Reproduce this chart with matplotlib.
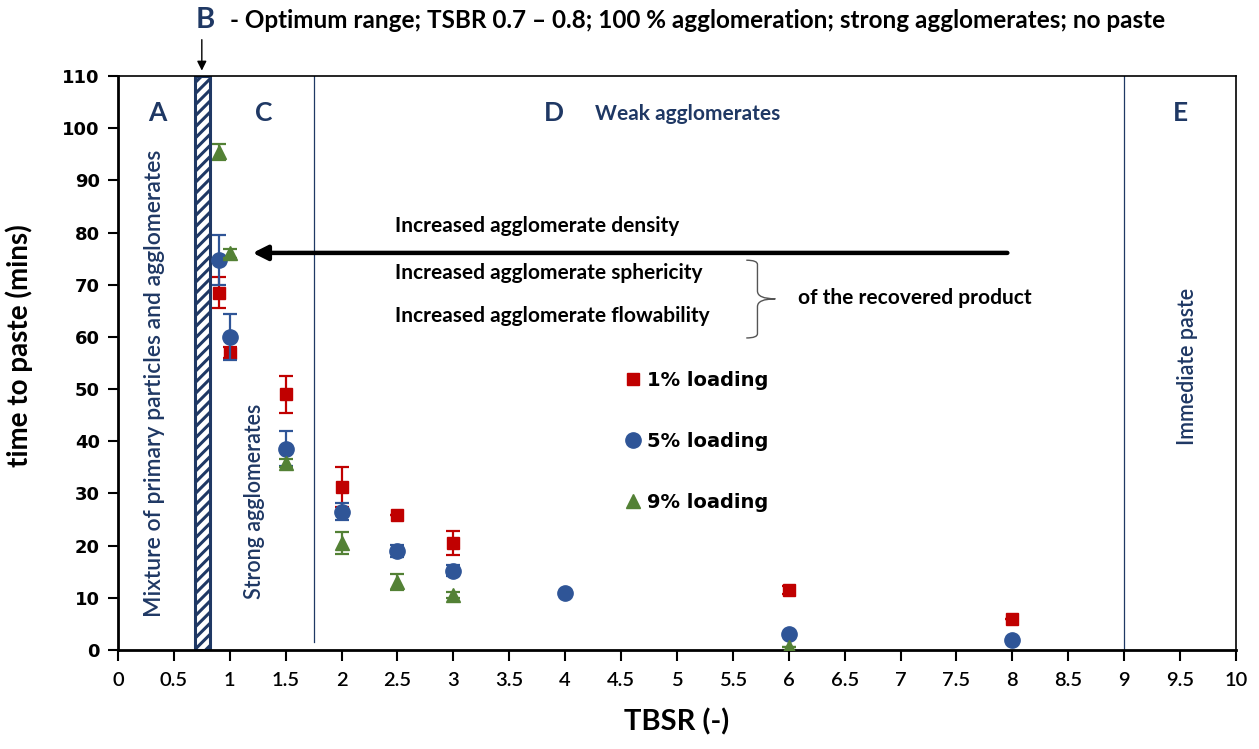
import matplotlib
matplotlib.use("Agg")
import matplotlib.pyplot as plt
from matplotlib.lines import Line2D
from matplotlib.path import Path
from matplotlib.patches import PathPatch

# TBSR vs time to paste, three binder loadings
x_1 = [0.9, 1.0, 1.5, 2.0, 2.5, 3.0, 6.0, 8.0]
y_1 = [68.5, 57.0, 49.0, 31.2, 25.9, 20.5, 11.5, 5.9]
e_1 = [3.0, 1.0, 3.5, 3.8, 0.0, 2.3, 0.8, 0.0]

x_5 = [0.9, 1.0, 1.5, 2.0, 2.5, 3.0, 4.0, 6.0, 8.0]
y_5 = [74.8, 59.9, 38.6, 26.5, 19.0, 15.2, 11.0, 3.0, 1.9]
e_5 = [4.8, 4.4, 3.3, 1.6, 1.2, 1.1, 0.0, 0.0, 0.0]

x_9 = [0.9, 1.0, 1.5, 2.0, 2.5, 3.0, 6.0]
y_9 = [95.5, 76.0, 35.8, 20.5, 13.0, 10.5, 0.5]
e_9 = [1.5, 0.8, 0.8, 2.2, 1.6, 0.6, 0.0]

labels = ["1% loading", "5% loading", "9% loading"]
xticks = [i * 0.5 for i in range(21)]
xticklabels = ["0", "0.5", "1", "1.5", "2", "2.5", "3", "3.5", "4", "4.5", "5",
               "5.5", "6", "6.5", "7", "7.5", "8", "8.5", "9", "9.5", "10"]
yticks = list(range(0, 111, 10))

red = "#C00000"
blue = "#2F5597"
green = "#538135"
navy = "#1F3864"
txt = ["Lato", "DejaVu Sans"]

plt.rcParams["hatch.linewidth"] = 2.2
fig = plt.figure(figsize=(12.59, 7.49), dpi=100)
ax = fig.add_axes([0.0937, 0.1322, 0.888, 0.7663])

# region B and boundaries
ax.axvspan(0.685, 0.825, facecolor="white", edgecolor=navy, hatch="///", lw=2.2, zorder=1)
ax.plot([1.75, 1.75], [1.5, 110], color=navy, lw=0.9, zorder=1)
ax.plot([9, 9], [0, 110], color=navy, lw=0.9, zorder=1)

ax.errorbar(x_1, y_1, yerr=e_1, fmt="s", color=red, ms=8.5, capsize=5, elinewidth=1.6, capthick=1.6, zorder=3)
ax.errorbar(x_5, y_5, yerr=e_5, fmt="o", color=blue, ms=11, capsize=5, elinewidth=1.6, capthick=1.6, zorder=4)
ax.errorbar(x_9, y_9, yerr=e_9, fmt="^", color=green, ms=10, capsize=5, elinewidth=1.6, capthick=1.6, zorder=5)

ax.set_xlim(0, 10)
ax.set_ylim(0, 110)
ax.set_xticks(xticks)
ax.set_xticklabels(xticklabels, family=txt, fontweight="semibold", fontsize=14.5)
ax.set_yticks(yticks)
ax.set_yticklabels([str(v) for v in yticks], fontweight="bold", fontsize=13)
ax.tick_params(axis="x", direction="out", length=8, width=1.5, pad=8)
ax.tick_params(axis="y", direction="out", length=7, width=1.5, pad=6)
for s in ["left", "bottom"]:
    ax.spines[s].set_linewidth(2)
for s in ["top", "right"]:
    ax.spines[s].set_linewidth(1.2)

ax.set_xlabel("TBSR (-)", family=txt, fontweight="bold", fontsize=21, labelpad=14)
ax.set_ylabel("time to paste (mins)", family=txt, fontweight="bold", fontsize=20)
ax.yaxis.set_label_coords(-0.076, 0.531)

# region letters
for lx, ly, s in [(0.35, 103, "A"), (1.3, 103, "C"), (3.9, 103, "D"), (9.5, 103, "E")]:
    ax.text(lx, ly, s, color=navy, family=txt, fontweight="bold", fontsize=19, ha="center", va="center")
ax.text(4.27, 102.8, "Weak agglomerates", color=navy, family=txt, fontweight="bold", fontsize=15, va="center")
ax.text(0.33, 51, "Mixture of primary particles and agglomerates", color=navy, family=txt,
        fontweight="semibold", fontsize=16.5, rotation=90, ha="center", va="center")
ax.text(1.22, 28.5, "Strong agglomerates", color=navy, family=txt, fontweight="semibold",
        fontsize=15.5, rotation=90, ha="center", va="center")
ax.text(9.57, 54.4, "Immediate paste", color=navy, family=txt, fontweight="semibold",
        fontsize=15.5, rotation=90, ha="center", va="center")

# header for region B
fig.text(205 / 1259, 1 - 20 / 749, "B", color=navy, family=txt, fontweight="bold", fontsize=21, ha="center", va="center")
fig.text(230 / 1259, 1 - 20 / 749, "- Optimum range; TSBR 0.7 \u2013 0.8; 100 % agglomeration; strong agglomerates; no paste",
         family=txt, fontweight="bold", fontsize=17.5, va="center")
ax.annotate("", xy=(0.75, 110.5), xytext=(0.75, 117.5), xycoords="data",
            arrowprops=dict(arrowstyle="-|>", color="black", lw=1, mutation_scale=14), annotation_clip=False)

# trend arrow and notes
ax.annotate("", xy=(1.18, 76.1), xytext=(7.98, 76.1),
            arrowprops=dict(arrowstyle="-|>", color="black", lw=3.2, mutation_scale=22))
ax.text(2.48, 81.2, "Increased agglomerate density", family=txt, fontweight="bold", fontsize=15, va="center")
ax.text(2.48, 72.2, "Increased agglomerate sphericity", family=txt, fontweight="bold", fontsize=15, va="center")
ax.text(2.48, 64.0, "Increased agglomerate flowability", family=txt, fontweight="bold", fontsize=15, va="center")
ax.text(6.08, 67.4, "of the recovered product", family=txt, fontweight="bold", fontsize=15, va="center")

# curly brace
bx0, bx1, bx2 = 5.62, 5.72, 5.88
yt, ym, yb = 74.7, 67.3, 59.8
verts = [(bx0, yt), (bx1, yt), (bx1, yt - 0.8), (bx1, yt - 1.5),
         (bx1, ym + 1.5), (bx1, ym), (bx2, ym),
         (bx1, ym), (bx1, ym - 1.5),
         (bx1, yb + 1.5), (bx1, yb + 0.8), (bx1, yb), (bx0, yb)]
codes = [Path.MOVETO, Path.CURVE3, Path.CURVE3, Path.LINETO,
         Path.LINETO, Path.CURVE3, Path.CURVE3,
         Path.CURVE3, Path.CURVE3,
         Path.LINETO, Path.LINETO, Path.CURVE3, Path.CURVE3]
ax.add_patch(PathPatch(Path(verts, codes), facecolor="none", edgecolor="#555555", lw=1))

handles = [Line2D([], [], ls="none", marker="s", color=red, ms=8.5),
           Line2D([], [], ls="none", marker="o", color=blue, ms=11),
           Line2D([], [], ls="none", marker="^", color=green, ms=10)]
leg = ax.legend(handles, labels, loc="center left", bbox_to_anchor=(4.36, 40), bbox_transform=ax.transData,
                frameon=False, handlelength=1.0, handletextpad=0.25, labelspacing=2.15,
                prop={"weight": "bold", "size": 14})

fig.savefig("out.png", dpi=100)
